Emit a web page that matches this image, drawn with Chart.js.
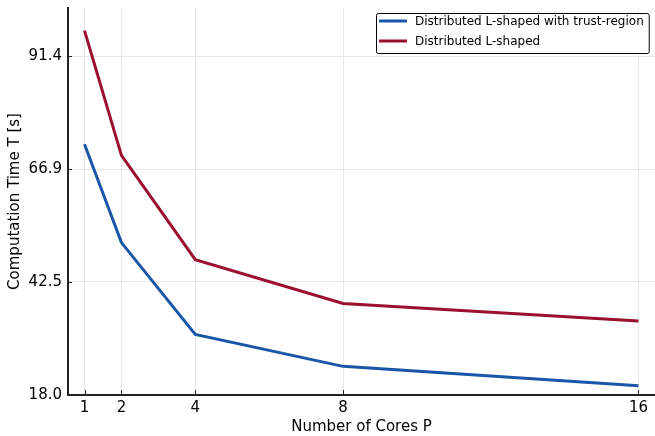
<!DOCTYPE html>
<html>
<head>
<meta charset="utf-8">
<script src="https://cdn.jsdelivr.net/npm/chart.js@4.4.0/dist/chart.umd.min.js"></script>
<style>
  html, body { margin: 0; padding: 0; background: #fff; }
  #wrap { width: 655px; height: 436px; }
</style>
</head>
<body>
<div id="wrap"><canvas id="chart" width="655" height="436"></canvas></div>
<script>
// cores used and measured run times (seconds)
const cores = [1, 2, 4, 8, 16];
const trustRegionTimes = [72.3, 51.0, 31.1, 24.2, 20.0];
const lShapedTimes = [96.9, 69.9, 47.3, 37.8, 34.0];
const xTicks = [1, 2, 4, 8, 16];
const yTicks = [18.0, 42.5, 66.9, 91.4];

const FONT = "'DejaVu Sans', sans-serif";

function toPoints(ys) {
    return cores.map((c, i) => ({ x: c, y: ys[i] }));
}

// boxed legend in the top right corner of the plot
const boxLegend = {
    id: "boxLegend",
    afterDraw(chart) {
        const ctx = chart.ctx;
        const area = chart.chartArea;
        const sets = chart.data.datasets;
        ctx.save();
        ctx.font = "12px " + FONT;
        let w = 0;
        sets.forEach(d => { w = Math.max(w, ctx.measureText(d.label).width); });
        const boxW = w + 44, rowH = 20, boxH = sets.length * rowH;
        const x0 = Math.round(area.right - 6 - boxW), y0 = Math.round(area.top + 5);
        ctx.fillStyle = "#fff";
        ctx.fillRect(x0, y0, boxW, boxH);
        ctx.strokeStyle = "#000";
        ctx.lineWidth = 1;
        ctx.beginPath();
        ctx.roundRect(x0 + 0.5, y0 + 0.5, boxW, boxH, 2);
        ctx.stroke();
        sets.forEach((d, i) => {
            const cy = y0 + 8 + i * rowH;
            ctx.strokeStyle = d.borderColor;
            ctx.lineWidth = 3;
            ctx.beginPath();
            ctx.moveTo(x0 + 3, cy);
            ctx.lineTo(x0 + 31, cy);
            ctx.stroke();
            ctx.fillStyle = "#000";
            ctx.textBaseline = "middle";
            ctx.fillText(d.label, x0 + 39, cy + 1);
        });
        ctx.restore();
    }
};

// short tick marks pointing into the plot, plus the two spines
const innerTicks = {
    id: "innerTicks",
    afterDatasetsDraw(chart) {
        const ctx = chart.ctx;
        const { left, right, top, bottom } = chart.chartArea;
        const xs = chart.scales.x, ys = chart.scales.y;
        ctx.save();
        ctx.strokeStyle = "#222";
        ctx.lineWidth = 1;
        ctx.beginPath();
        xs.ticks.forEach(t => {
            const px = Math.round(xs.getPixelForValue(t.value)) + 0.5;
            ctx.moveTo(px, bottom);
            ctx.lineTo(px, bottom - 5);
        });
        ys.ticks.forEach(t => {
            const py = Math.round(ys.getPixelForValue(t.value)) + 0.5;
            ctx.moveTo(left - 1, py);
            ctx.lineTo(left + 4, py);
        });
        ctx.stroke();
        ctx.lineWidth = 2;
        ctx.beginPath();
        ctx.moveTo(left, top - 1);
        ctx.lineTo(left, bottom);
        ctx.lineTo(right, bottom);
        ctx.stroke();
        ctx.restore();
    }
};

new Chart(document.getElementById("chart"), {
    type: "line",
    data: {
        datasets: [
            {
                label: "Distributed L-shaped with trust-region",
                data: toPoints(trustRegionTimes),
                borderColor: "#1a56a8",
                borderWidth: 3,
                pointRadius: 0,
                tension: 0
            },
            {
                label: "Distributed L-shaped",
                data: toPoints(lShapedTimes),
                borderColor: "#9b1030",
                borderWidth: 3,
                pointRadius: 0,
                tension: 0
            }
        ]
    },
    options: {
        responsive: false,
        animation: false,
        layout: { padding: { top: 8, right: 0, left: 0, bottom: 0 } },
        plugins: {
            legend: { display: false },
            tooltip: { enabled: false }
        },
        scales: {
            x: {
                type: "linear",
                min: 0.553,
                max: 16.447,
                afterBuildTicks: s => { s.ticks = xTicks.map(v => ({ value: v })); },
                afterFit: s => {
                    s.height = 41;
                    s.paddingLeft = 0;
                    s.paddingRight = 0;
                },
                grid: { color: "#e8e8e8", drawTicks: false },
                border: { display: false },
                ticks: {
                    color: "#000",
                    padding: 4,
                    font: { family: FONT, size: 15 },
                    callback: v => String(v)
                },
                title: {
                    display: true,
                    text: "Number of Cores P",
                    color: "#000",
                    padding: { top: 0, bottom: 0 },
                    font: { family: FONT, size: 15 }
                }
            },
            y: {
                min: 18.0,
                max: 101.8,
                afterBuildTicks: s => { s.ticks = yTicks.map(v => ({ value: v })); },
                afterFit: s => {
                    s.width = 68;
                    s.paddingTop = 0;
                    s.paddingBottom = 0;
                },
                grid: { color: "#e8e8e8", drawTicks: false },
                border: { display: false },
                ticks: {
                    color: "#000",
                    padding: 6,
                    font: { family: FONT, size: 15 },
                    callback: v => v.toFixed(1)
                },
                title: {
                    display: true,
                    text: "Computation Time T [s]",
                    color: "#000",
                    padding: { top: 6, bottom: 0 },
                    font: { family: FONT, size: 15 }
                }
            }
        }
    },
    plugins: [innerTicks, boxLegend]
});
</script>
</body>
</html>
